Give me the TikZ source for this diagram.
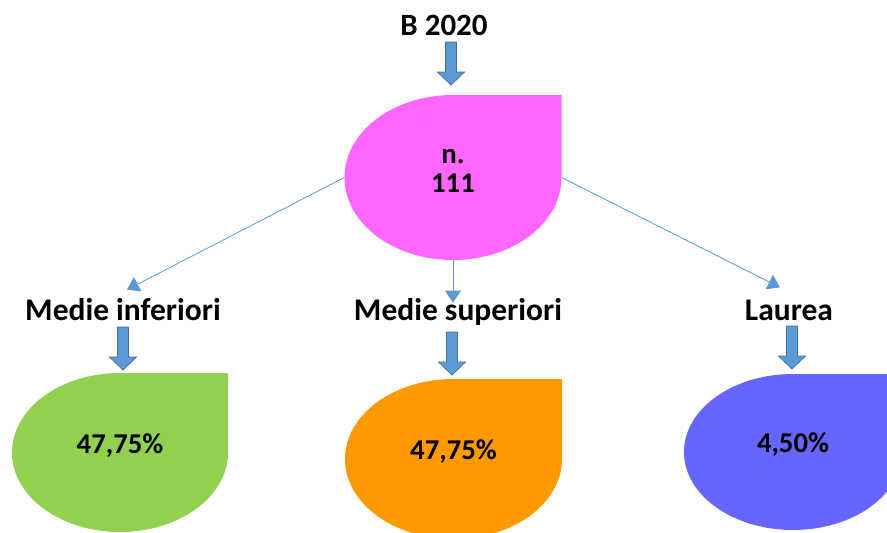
\documentclass[tikz,border=0pt]{standalone}
\usepackage{fontspec}
\setmainfont{Carlito}
\usetikzlibrary{shapes,arrows.meta,positioning,calc}
\definecolor{dropPink}{HTML}{FF66FF}
\definecolor{dropGreen}{HTML}{92D050}
\definecolor{dropOrange}{HTML}{FF9900}
\definecolor{dropBlue}{HTML}{6666FF}
\definecolor{arrowFill}{HTML}{5B9BD5}
\definecolor{arrowEdge}{HTML}{41719C}
\definecolor{linkBlue}{HTML}{5B9BD5}
\begin{document}
\begin{tikzpicture}[x=1pt, y=1pt,
    txt/.style={font=\bfseries\fontsize{31.5}{30}\selectfont, inner sep=2pt, anchor=base},
    drop/.style={font=\bfseries\fontsize{28.7}{29}\selectfont, align=center, minimum width=217pt, minimum height=160pt, inner sep=0pt, text depth=18pt,
        path picture={\fill[#1] let \p1=($(path picture bounding box.north east)-(path picture bounding box.center)$) in
            (path picture bounding box.north) -| (path picture bounding box.east)
            arc[start angle=0, end angle=-270, x radius=\x1, y radius=\y1] -- cycle;}},
    fatarrow/.pic={\path[fill=arrowFill, draw=arrowEdge, line width=0.8pt]
        (-5.5,0) -- (5.5,0) -- (5.5,-30) -- (13.5,-30) -- (0,-43) -- (-13.5,-30) -- (-5.5,-30) -- cycle;},
    link/.style={draw=linkBlue, line width=0.8pt, -{Triangle[width=16pt,length=12pt]}}]
    \useasboundingbox (0,0) rectangle (887,-533);

    \node[txt, font=\bfseries\fontsize{31}{30}\selectfont] (year) at (444,-35) {B 2020};
    \pic at (451,-42) {fatarrow};
    \node[drop=dropPink, minimum height=165pt, text depth=14pt] (tot) at (453,-177.5) {n.\\111};

    \node[txt] (inf) at (123,-320) {Medie inferiori};
    \node[txt] (sup) at (458,-320) {Medie superiori};
    \node[txt] (lau) at (789,-320) {Laurea};

    \draw[link] (tot.west) -- ([yshift=6pt,xshift=4pt]inf.north);
    \draw[link] (tot.south) -- ([yshift=-7pt]tot.south |- sup.north);
    \draw[link] (tot.east) -- ([yshift=10pt,xshift=-9pt]lau.north);

    \pic at (123,-327) {fatarrow};
    \pic at (452,-332) {fatarrow};
    \pic at (792,-326) {fatarrow};

    \node[drop=dropGreen, minimum width=216pt, minimum height=159pt] (p1) at (120,-452.5) {47,75\%};
    \node[drop=dropOrange] (p2) at (453.5,-459) {47,75\%};
    \node[drop=dropBlue, minimum width=218pt, minimum height=156pt] (p3) at (793,-452) {4,50\%};
\end{tikzpicture}
\end{document}
